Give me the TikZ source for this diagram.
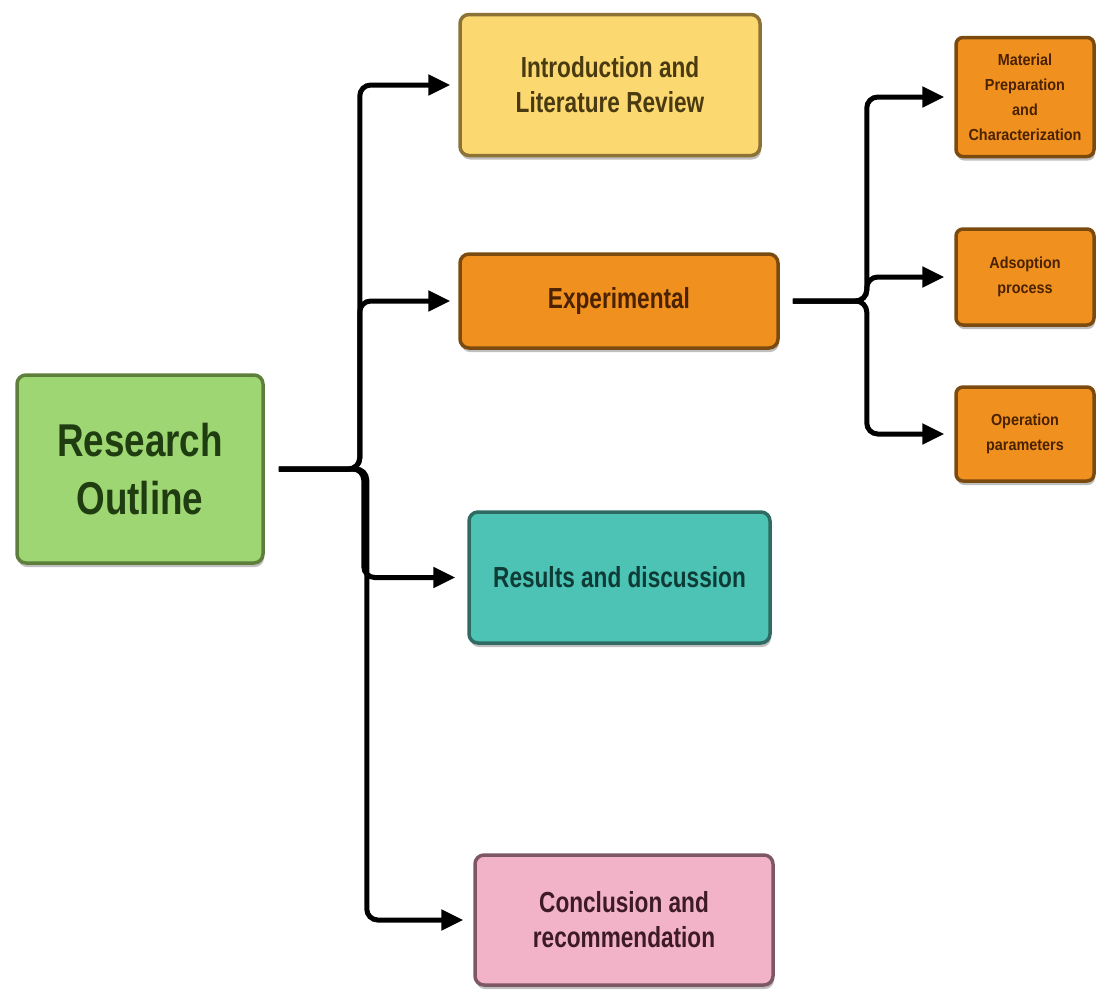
\documentclass[tikz,border=0pt]{standalone}
\usepackage{fontspec}
\setmainfont{Liberation Sans}
\newfontfamily\condA{Liberation Sans}[FakeStretch=0.8]
\newfontfamily\condB{Liberation Sans}[FakeStretch=0.78]
\newfontfamily\condC{Liberation Sans}[FakeStretch=0.9]
\usetikzlibrary{arrows.meta,shadows}
\definecolor{gfill}{RGB}{158,214,115}
\definecolor{gline}{RGB}{94,127,59}
\definecolor{gtext}{RGB}{31,61,16}
\definecolor{yfill}{RGB}{252,217,112}
\definecolor{yline}{RGB}{140,115,53}
\definecolor{ytext}{RGB}{74,58,18}
\definecolor{ofill}{RGB}{240,144,31}
\definecolor{oline}{RGB}{122,74,14}
\definecolor{otext}{RGB}{74,34,0}
\definecolor{tfill}{RGB}{77,195,181}
\definecolor{tline}{RGB}{47,107,99}
\definecolor{ttext}{RGB}{14,59,54}
\definecolor{pfill}{RGB}{242,179,201}
\definecolor{pline}{RGB}{126,87,102}
\definecolor{ptext}{RGB}{61,26,38}
\tikzset{
  box/.style={draw, line width=3.5pt, rounded corners=9pt, align=center, inner sep=0pt,
    drop shadow={shadow xshift=1pt, shadow yshift=-4pt, opacity=0.25, fill=black}},
  bigtxt/.style={font=\condB\bfseries\fontsize{29}{35}\selectfont},
  smalltxt/.style={font=\condC\bfseries\fontsize{16}{25}\selectfont},
  conn/.style={line width=5pt, rounded corners=11pt, -{Triangle[length=22pt,width=20pt]}},
}
\begin{document}
\begin{tikzpicture}[x=1pt,y=-1pt]
\useasboundingbox (0,0) rectangle (1098,991);
% main nodes
\node[box, fill=gfill, draw=gline, text=gtext, minimum width=246pt, minimum height=188pt,
  font=\condA\bfseries\fontsize{46}{58}\selectfont] (ro) at (140,469) {Research\\Outline};
\node[box, bigtxt, fill=yfill, draw=yline, text=ytext, minimum width=300pt, minimum height=141pt] (intro) at (610,85) {Introduction and\\Literature Review};
\node[box, bigtxt, fill=ofill, draw=oline, text=otext, minimum width=318pt, minimum height=94pt] (exp) at (619,301) {Experimental};
\node[box, bigtxt, fill=tfill, draw=tline, text=ttext, minimum width=301pt, minimum height=131pt] (res) at (619.5,577.5) {Results and discussion};
\node[box, bigtxt, fill=pfill, draw=pline, text=ptext, minimum width=298pt, minimum height=130pt] (con) at (624,920) {Conclusion and\\recommendation};
% sub nodes
\node[box, smalltxt, rounded corners=7pt, fill=ofill, draw=oline, text=otext, minimum width=138pt, minimum height=119pt] (mat) at (1025,97) {Material\\Preparation\\and\\Characterization};
\node[box, smalltxt, rounded corners=7pt, fill=ofill, draw=oline, text=otext, minimum width=138pt, minimum height=96pt] (ads) at (1025,277) {Adsoption\\process};
\node[box, smalltxt, rounded corners=7pt, fill=ofill, draw=oline, text=otext, minimum width=138pt, minimum height=94pt] (op) at (1025,434) {Operation\\parameters};
% connectors from Research Outline
\draw[conn, shorten <=14pt, shorten >=8pt] (ro.east) -- ++(95,0) |- (intro.west);
\draw[conn, shorten <=14pt, shorten >=8pt] (ro.east) -- ++(95,0) |- (exp.west);
\draw[conn, shorten <=14pt, shorten >=12pt] (ro.east) -- ++(99,0) |- (res.west);
\draw[conn, shorten <=14pt, shorten >=10pt] (ro.east) -- ++(102,0) |- (con.west);
% connectors from Experimental
\draw[conn, shorten <=13pt, shorten >=10pt] (exp.east) -- ++(87,0) |- (mat.west);
\draw[conn, shorten <=13pt, shorten >=10pt] (exp.east) -- ++(87,0) |- (ads.west);
\draw[conn, shorten <=13pt, shorten >=10pt] (exp.east) -- ++(87,0) |- (op.west);
\end{tikzpicture}
\end{document}
